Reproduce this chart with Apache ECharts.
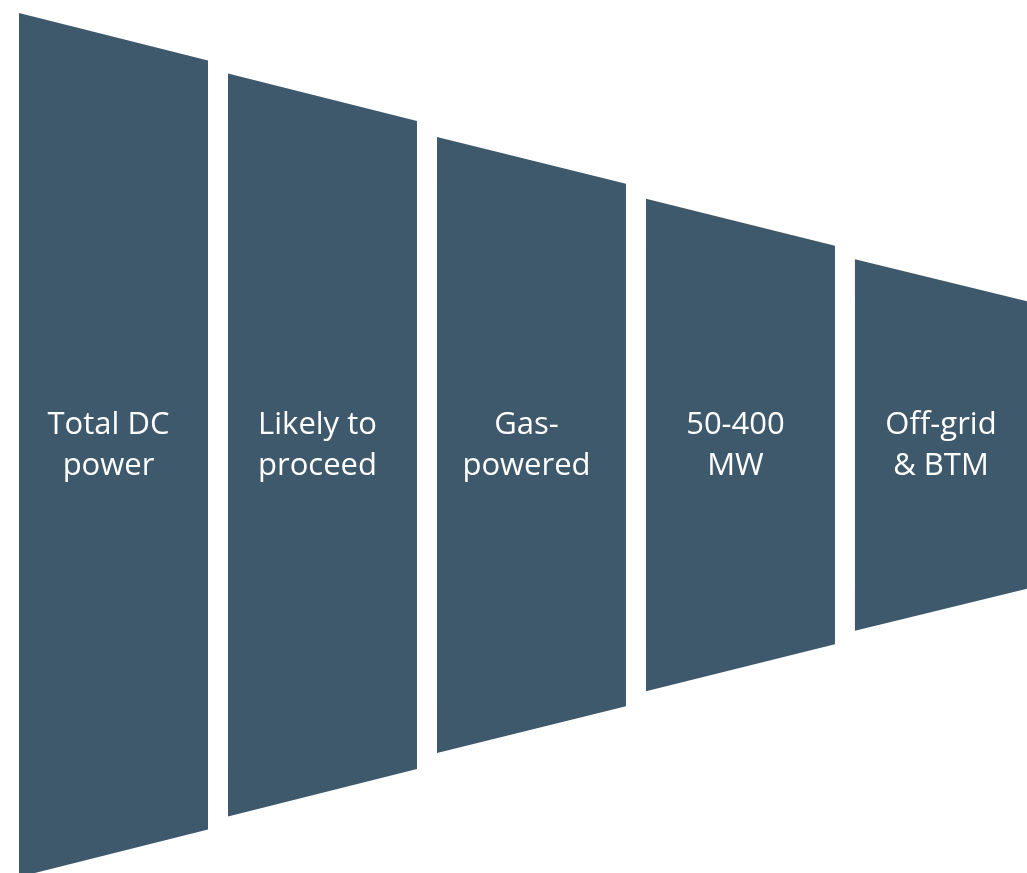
<!DOCTYPE html>
<html>
<head>
<meta charset="utf-8">
<script src="https://cdn.jsdelivr.net/npm/echarts@6/dist/echarts.min.js"></script>
<style>
  html, body { margin: 0; padding: 0; background: #ffffff; }
  #chart { width: 1027px; height: 873px; }
</style>
</head>
<body>
<div id="chart"></div>
<script>
// Stage labels
const stages = ['Total DC\npower', 'Likely to\nproceed', 'Gas-\npowered', '50-400\nMW', 'Off-grid\n& BTM'];
// Relative size at the left (start) and right (end) edge of each stage
const stageStart = [100, 86, 71.3, 57, 43];
const stageEnd = [89, 75, 60.5, 46.1, 32.3];

const chart = echarts.init(document.getElementById('chart'), null, { renderer: 'canvas' });

const seriesData = stages.map((s, i) => [i, stageStart[i], stageEnd[i]]);

const GAP = 20;

chart.setOption({
  animation: false,
  backgroundColor: '#ffffff',
  grid: { left: 9, right: 0, top: 13, bottom: 0 },
  xAxis: {
    type: 'value',
    min: -0.5,
    max: 4.371,
    show: false
  },
  yAxis: {
    type: 'value',
    min: -49.54,
    max: 50,
    show: false
  },
  series: [{
    type: 'custom',
    clip: false,
    encode: { x: 0, y: 1 },
    data: seriesData,
    renderItem: function (params, api) {
      const i = api.value(0);
      const s = api.value(1);
      const e = api.value(2);
      const band = api.size([1, 0])[0];
      const cx = api.coord([i, 0])[0];
      const half = (band - GAP) / 2;
      const x0 = cx - half, x1 = cx + half;
      const tl = api.coord([i, s / 2])[1];
      const bl = api.coord([i, -s / 2])[1];
      const tr = api.coord([i, e / 2])[1];
      const br = api.coord([i, -e / 2])[1];
      const cy = api.coord([i, 0])[1];
      const textX = (x0 + Math.min(x1 - 10, api.getWidth())) / 2;
      return {
        type: 'group',
        children: [
          {
            type: 'polygon',
            shape: { points: [[x0, tl], [x1, tr], [x1, br], [x0, bl]] },
            style: { fill: '#3e596b' }
          },
          {
            type: 'text',
            x: textX,
            y: cy + 1,
            style: {
              text: stages[i],
              fill: '#ffffff',
              fontSize: 31,
              fontFamily: 'Open Sans',
              align: 'center',
              verticalAlign: 'middle',
              lineHeight: 41
            }
          }
        ]
      };
    }
  }]
});
</script>
</body>
</html>
